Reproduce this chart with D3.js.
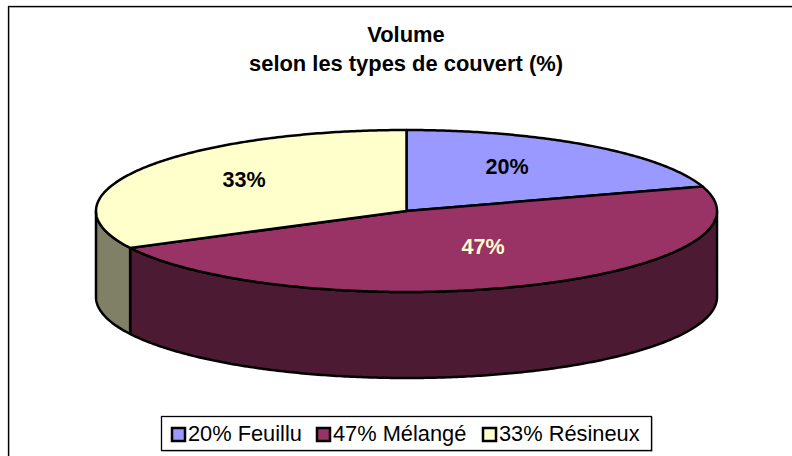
<!DOCTYPE html>
<html><head><meta charset="utf-8">
<script src="https://cdn.jsdelivr.net/npm/d3@7/dist/d3.min.js"></script>
<style>html,body{margin:0;padding:0;background:#fff}svg{display:block}text{font-family:"Liberation Sans",Arial,sans-serif}</style>
</head><body><svg id="c" width="792" height="456"></svg>
<script>
const categories = ["Feuillu","Mélangé","Résineux"];
const values = [20.1,47.3,32.5];
const topColors = ["#9999FF","#993366","#FFFFCC"];
const sideColors = ["#4D4D80","#4D1A33","#808066"];
const labelColors = ["#000","#FFFFCC","#000"];
const titleLines = ["Volume","selon les types de couvert (%)"];

const svg = d3.select("#c");
const cx=406.5,cy=211,rx=310.5,ry=81,depth=86;
const X=d3.scaleLinear().domain([-1,1]).range([cx-rx,cx+rx]);
const Y=d3.scaleLinear().domain([-1,1]).range([cy-ry,cy+ry]);
const px=a=>X(Math.sin(a)), py=a=>Y(-Math.cos(a));

// chart frame runs off the right and bottom of the picture
svg.append("rect").attr("x",9.5).attr("y",7.5).attr("width",800).attr("height",470)
  .attr("fill","none").attr("stroke","#c8c8c8").attr("stroke-width",1);
svg.append("rect").attr("x",8.5).attr("y",6.5).attr("width",800).attr("height",470)
  .attr("fill","none").attr("stroke","#000").attr("stroke-width",1.3);

svg.selectAll(".title").data(titleLines).join("text")
  .attr("x",406).attr("y",(d,i)=>42+i*29).attr("text-anchor","middle")
  .attr("font-size",21.9).attr("font-weight","bold").attr("fill","#000").text(d=>d);

const pie=d3.pie().sort(null)(values);
const line=d3.line();
function samples(a0,a1){const n=Math.max(2,Math.ceil((a1-a0)/0.01));return d3.range(n+1).map(i=>a0+(a1-a0)*i/n);}

const wall=pie.map((d,i)=>({i,a0:Math.max(d.startAngle,Math.PI/2),a1:Math.min(d.endAngle,3*Math.PI/2)})).filter(d=>d.a1>d.a0);
svg.selectAll(".wall").data(wall).join("path").attr("class","wall")
  .attr("d",d=>{
    const s=samples(d.a0,d.a1);
    const pts=s.map(a=>[px(a),py(a)]).concat(s.slice().reverse().map(a=>[px(a),py(a)+depth]));
    return line(pts)+"Z";
  })
  .attr("fill",d=>sideColors[d.i]).attr("stroke","#000").attr("stroke-width",2.5).attr("stroke-linejoin","round");

svg.selectAll(".slice").data(pie).join("path").attr("class","slice")
  .attr("d",d=>{
    const pts=samples(d.startAngle,d.endAngle).map(a=>[px(a),py(a)]);
    return line([[cx,cy],...pts])+"Z";
  })
  .attr("fill",(d,i)=>topColors[i]).attr("stroke","#000").attr("stroke-width",2.5).attr("stroke-linejoin","round");

const labelPos=[[507,166],[483,246],[244,179]];
svg.selectAll(".lab").data(values).join("text")
  .attr("x",(d,i)=>labelPos[i][0]).attr("y",(d,i)=>labelPos[i][1]+7.5)
  .attr("text-anchor","middle").attr("font-size",21.5).attr("font-weight","bold")
  .attr("fill",(d,i)=>labelColors[i]).text(d=>Math.round(d)+"%");

// legend
svg.append("rect").attr("x",162.5).attr("y",417.5).attr("width",490).attr("height",34)
  .attr("fill","none").attr("stroke","#c8c8c8").attr("stroke-width",1);
svg.append("rect").attr("x",161.5).attr("y",416.5).attr("width",490).attr("height",34)
  .attr("fill","#fff").attr("stroke","#000").attr("stroke-width",1.3);
const legX=[172,317,483];
const g=svg.selectAll(".leg").data(categories).join("g");
g.append("rect").attr("x",(d,i)=>legX[i]).attr("y",428).attr("width",13).attr("height",13)
  .attr("fill",(d,i)=>topColors[i]).attr("stroke","#000").attr("stroke-width",2.5);
g.append("text").attr("x",(d,i)=>legX[i]+16).attr("y",441).attr("font-size",21.8).attr("fill","#000")
  .text((d,i)=>Math.round(values[i])+"% "+d);
</script></body></html>
